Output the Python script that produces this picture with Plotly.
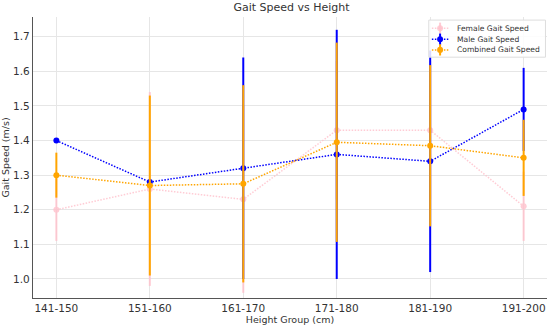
import plotly.graph_objects as go

groups = ["141-150", "151-160", "161-170", "171-180", "181-190", "191-200"]
female = [1.20, 1.26, 1.23, 1.43, 1.43, 1.21]
female_err = [0.09, 0.28, 0.27, 0.20, 0.20, 0.10]
male = [1.40, 1.28, 1.32, 1.36, 1.34, 1.49]
male_err = [0.0, 0.0, 0.32, 0.36, 0.32, 0.12]
combined = [1.30, 1.27, 1.275, 1.395, 1.385, 1.35]
combined_err = [0.065, 0.26, 0.285, 0.288, 0.233, 0.11]

series = [
    ("Female Gait Speed", female, female_err, "pink", 0.8),
    ("Male Gait Speed", male, male_err, "blue", 1.0),
    ("Combined Gait Speed", combined, combined_err, "orange", 1.0),
]

DOT = "1.5px,1.5px"

fig = go.Figure()
for name, y, err, color, op in series:
    fig.add_trace(go.Scatter(
        x=groups, y=y, name=name, mode="lines+markers",
        line=dict(color=color, dash=DOT, width=1.5),
        marker=dict(color=color, size=6, symbol="circle"),
        opacity=op,
        error_y=dict(type="data", array=err, visible=True, color=color,
                     thickness=2, width=0),
        showlegend=False,
    ))

# Custom compact legend (paper coordinates = plot area)
shapes = [dict(type="rect", xref="paper", yref="paper", x0=0.770, x1=0.997,
               y0=0.857, y1=0.989, line=dict(color="#dddddd", width=1),
               fillcolor="rgba(255,255,255,0.85)", layer="above")]
annotations = []
rows_y = [0.960, 0.921, 0.883]
rx, ry = 0.0058, 0.0107
for (name, _, _, color, op), yy in zip(series, rows_y):
    shapes.append(dict(type="line", xref="paper", yref="paper", x0=0.776, x1=0.808,
                       y0=yy, y1=yy, line=dict(color=color, width=1.5, dash=DOT),
                       opacity=op, layer="above"))
    shapes.append(dict(type="line", xref="paper", yref="paper", x0=0.792, x1=0.792,
                       y0=yy - 0.02, y1=yy + 0.02, line=dict(color=color, width=2),
                       opacity=op, layer="above"))
    shapes.append(dict(type="circle", xref="paper", yref="paper", x0=0.792 - rx,
                       x1=0.792 + rx, y0=yy - ry, y1=yy + ry, fillcolor=color,
                       line=dict(color=color, width=0), opacity=op, layer="above"))
    annotations.append(dict(xref="paper", yref="paper", x=0.821, y=yy, text=name,
                            showarrow=False, xanchor="left", yanchor="middle",
                            font=dict(size=7.6, color="#333333")))

fig.update_layout(
    width=550, height=325,
    margin=dict(l=33, r=3, t=17, b=27, autoexpand=False),
    paper_bgcolor="white", plot_bgcolor="white",
    font=dict(family="DejaVu Sans", size=10, color="#333333"),
    title=dict(text="Gait Speed vs Height", x=0.53, xanchor="center",
               y=0.99, yanchor="top", font=dict(size=11, color="#333333")),
    xaxis=dict(title=dict(text="Height Group (cm)", standoff=1, font=dict(size=9.5)),
               range=[-0.25, 5.25], showgrid=True, gridcolor="#e6e6e6",
               showline=True, linecolor="#555555", linewidth=1.2,
               ticks="", zeroline=False, tickfont=dict(size=10.5),
               automargin=False),
    yaxis=dict(title=dict(text="Gait Speed (m/s)", standoff=3, font=dict(size=9.5)),
               range=[0.945, 1.757], dtick=0.1, tickformat=".1f",
               showgrid=True, gridcolor="#e6e6e6",
               showline=True, linecolor="#555555", linewidth=1.2,
               ticks="", zeroline=False, tickfont=dict(size=10.5),
               automargin=False),
    shapes=shapes,
    annotations=annotations,
    showlegend=False,
)

fig.write_html("out.html", config={"displayModeBar": False},
               post_script="document.body.style.margin='0';")
